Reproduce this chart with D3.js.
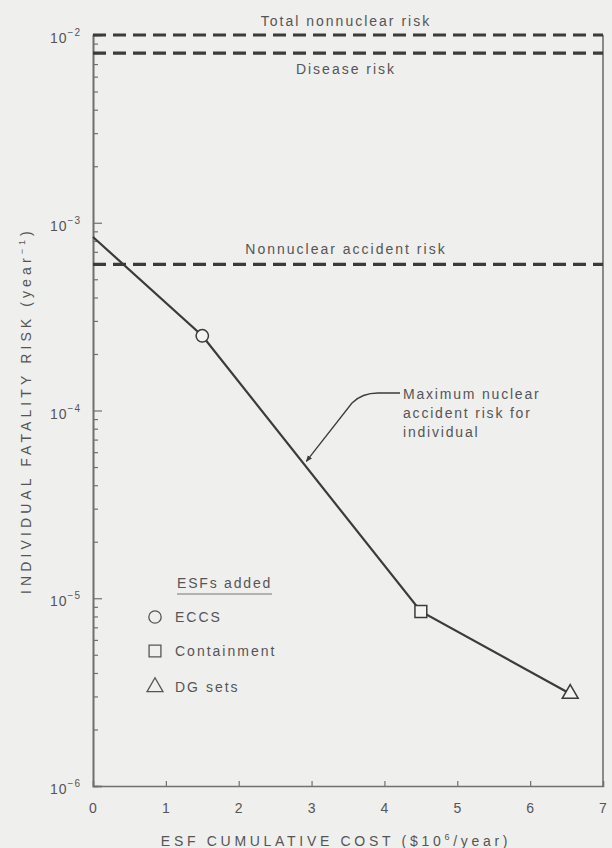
<!DOCTYPE html>
<html>
<head>
<meta charset="utf-8">
<script src="https://cdn.jsdelivr.net/npm/d3@7"></script>
<style>
  body { margin: 0; background: #efefee; }
  svg { display: block; }
  text { font-family: "Liberation Sans", Arial, sans-serif; fill: #555; }
</style>
</head>
<body>
<div id="chart"></div>
<script>
// values
const costTicks = [0, 1, 2, 3, 4, 5, 6, 7];
const decadeExps = [-2, -3, -4, -5, -6];
const riskCost = [0, 1.5, 4.5, 6.55];
const riskValue = [8.4e-4, 2.5e-4, 8.5e-6, 3.1e-6];
const riskMarker = [null, "circle", "square", "triangle"];
const esfNames = ["ECCS", "Containment", "DG sets"];
const esfMarkers = ["circle", "square", "triangle"];
const refNames = ["Total nonnuclear risk", "Disease risk", "Nonnuclear accident risk"];
const refValues = [1e-2, 8e-3, 6e-4];

const W = 612, H = 848;
const plotLeft = 93, plotRight = 603, plotTop = 35, plotBottom = 786;

const svg = d3.select("#chart").append("svg")
    .attr("width", W)
    .attr("height", H);

const x = d3.scaleLinear().domain([0, 7]).range([plotLeft, plotRight]);
const y = d3.scaleLog().domain([1e-6, 1e-2]).range([plotBottom, plotTop]);

const ink = "#3b3b3b";
const axisInk = "#707070";

const symbolType = { circle: d3.symbolCircle, square: d3.symbolSquare, triangle: d3.symbolTriangle };
const symbolSize = { circle: 120, square: 140, triangle: 110 };

// minor ticks 2..9 per decade
const minorTicks = [];
for (let e = -6; e < -2; e++) {
    for (let m = 2; m <= 9; m++) minorTicks.push(m * Math.pow(10, e));
}

const yMinor = svg.append("g")
    .attr("transform", `translate(${plotLeft},0)`)
    .call(d3.axisLeft(y).tickValues(minorTicks).tickSize(-5).tickFormat(""));
const yMajor = svg.append("g")
    .attr("transform", `translate(${plotLeft},0)`)
    .call(d3.axisLeft(y).tickValues(decadeExps.map(e => Math.pow(10, e))).tickSize(-9).tickFormat(""));
[yMinor, yMajor].forEach(g => {
    g.selectAll("line").attr("stroke", axisInk).attr("stroke-width", 1.2);
    g.select(".domain").attr("stroke", axisInk).attr("stroke-width", 1.6);
});

const xAxis = svg.append("g")
    .attr("transform", `translate(0,${plotBottom})`)
    .call(d3.axisBottom(x).tickValues(costTicks.slice(1, -1)).tickSize(-5).tickFormat(""));
xAxis.selectAll("line").attr("stroke", axisInk).attr("stroke-width", 1.2);
xAxis.select(".domain").attr("stroke", axisInk).attr("stroke-width", 1.6);

// right frame
svg.append("line")
    .attr("x1", plotRight).attr("x2", plotRight)
    .attr("y1", y(1e-2)).attr("y2", plotBottom)
    .attr("stroke", axisInk).attr("stroke-width", 1.6);

// y tick labels 10^n
const yLab = svg.append("g").selectAll("text")
    .data(decadeExps)
    .enter().append("text")
    .attr("x", plotLeft - 12)
    .attr("y", d => y(Math.pow(10, d)) + 8)
    .attr("text-anchor", "end")
    .style("font-size", "14px")
    .style("letter-spacing", "1px");
yLab.append("tspan").text("10");
yLab.append("tspan").attr("dy", -7).style("font-size", "10px").text(d => "\u2212" + (-d));

// x tick labels
svg.append("g").selectAll("text")
    .data(costTicks)
    .enter().append("text")
    .attr("x", d => x(d))
    .attr("y", plotBottom + 27)
    .attr("text-anchor", "middle")
    .style("font-size", "14px")
    .text(d => d);

// axis titles
const xt = svg.append("text")
    .attr("x", 336).attr("y", 846)
    .attr("text-anchor", "middle")
    .style("font-size", "14px")
    .style("letter-spacing", "3.7px");
xt.append("tspan").text("ESF CUMULATIVE COST ($10");
xt.append("tspan").attr("dy", -6).style("font-size", "9px").text("6");
xt.append("tspan").attr("dy", 6).text("/year)");

const yt = svg.append("text")
    .attr("transform", `translate(31,${y(1e-4)}) rotate(-90)`)
    .attr("text-anchor", "middle")
    .style("font-size", "14px")
    .style("letter-spacing", "4.1px");
yt.append("tspan").text("INDIVIDUAL FATALITY RISK (year");
yt.append("tspan").attr("dy", -6).style("font-size", "9px").text("\u22121");
yt.append("tspan").attr("dy", 6).text(")");

// reference risk lines
svg.append("g").selectAll("line")
    .data(refValues)
    .enter().append("line")
    .attr("x1", plotLeft).attr("x2", plotRight)
    .attr("y1", d => y(d)).attr("y2", d => y(d))
    .attr("stroke", ink)
    .attr("stroke-width", 3.2)
    .attr("stroke-dasharray", "13,7");

const refLabelDy = [-9, 21, -10];
svg.append("g").selectAll("text")
    .data(refNames)
    .enter().append("text")
    .attr("x", 346)
    .attr("y", (d, i) => y(refValues[i]) + refLabelDy[i])
    .attr("text-anchor", "middle")
    .style("font-size", "14px")
    .style("letter-spacing", "2px")
    .text(d => d);

// nuclear risk line
const pts = riskCost.map((c, i) => ({ c: c, v: riskValue[i], m: riskMarker[i] }));
svg.append("path")
    .datum(pts)
    .attr("fill", "none")
    .attr("stroke", ink)
    .attr("stroke-width", 2.2)
    .attr("d", d3.line().x(d => x(d.c)).y(d => y(d.v)));

svg.append("g").selectAll("path")
    .data(pts.filter(d => d.m))
    .enter().append("path")
    .attr("transform", d => `translate(${x(d.c)},${y(d.v)})`)
    .attr("d", d => d3.symbol().type(symbolType[d.m]).size(symbolSize[d.m])())
    .attr("fill", "#f4f4f2")
    .attr("stroke", ink)
    .attr("stroke-width", 1.5);

// annotation with arrow
const tc = 2.9;
const t = (tc - riskCost[1]) / (riskCost[2] - riskCost[1]);
const tv = Math.exp(Math.log(riskValue[1]) + t * (Math.log(riskValue[2]) - Math.log(riskValue[1])));
const tipX = x(tc) + 2, tipY = y(tv) - 3;

svg.append("defs").append("marker")
    .attr("id", "head")
    .attr("viewBox", "0 0 10 10")
    .attr("refX", 9).attr("refY", 5)
    .attr("markerWidth", 5).attr("markerHeight", 5)
    .attr("orient", "auto")
    .append("path")
    .attr("d", "M0,1 L10,5 L0,9 Z")
    .attr("fill", ink);

svg.append("path")
    .attr("d", `M400,393 L378,393 Q362,393 352,403 L${tipX},${tipY}`)
    .attr("fill", "none")
    .attr("stroke", ink)
    .attr("stroke-width", 1.3)
    .attr("marker-end", "url(#head)");

const noteLines = ["Maximum nuclear", "accident risk for", "individual"];
svg.append("g").selectAll("text")
    .data(noteLines)
    .enter().append("text")
    .attr("x", 403)
    .attr("y", (d, i) => 399 + i * 19)
    .style("font-size", "14px")
    .style("letter-spacing", "1.8px")
    .text(d => d);

// legend
svg.append("text")
    .attr("x", 177).attr("y", 588)
    .style("font-size", "14px")
    .style("letter-spacing", "1.8px")
    .text("ESFs added");
svg.append("line")
    .attr("x1", 177).attr("x2", 272)
    .attr("y1", 594).attr("y2", 594)
    .attr("stroke", "#777").attr("stroke-width", 1);

const legendY = [617, 651, 687];
const leg = svg.append("g").selectAll("g")
    .data(esfNames)
    .enter().append("g")
    .attr("transform", (d, i) => `translate(155,${legendY[i]})`);
leg.append("path")
    .attr("d", (d, i) => d3.symbol().type(symbolType[esfMarkers[i]]).size(symbolSize[esfMarkers[i]])())
    .attr("fill", "none")
    .attr("stroke", "#555")
    .attr("stroke-width", 1.3);
leg.append("text")
    .attr("x", 20).attr("y", 5)
    .style("font-size", "14px")
    .style("letter-spacing", "2px")
    .text(d => d);
</script>
</body>
</html>
